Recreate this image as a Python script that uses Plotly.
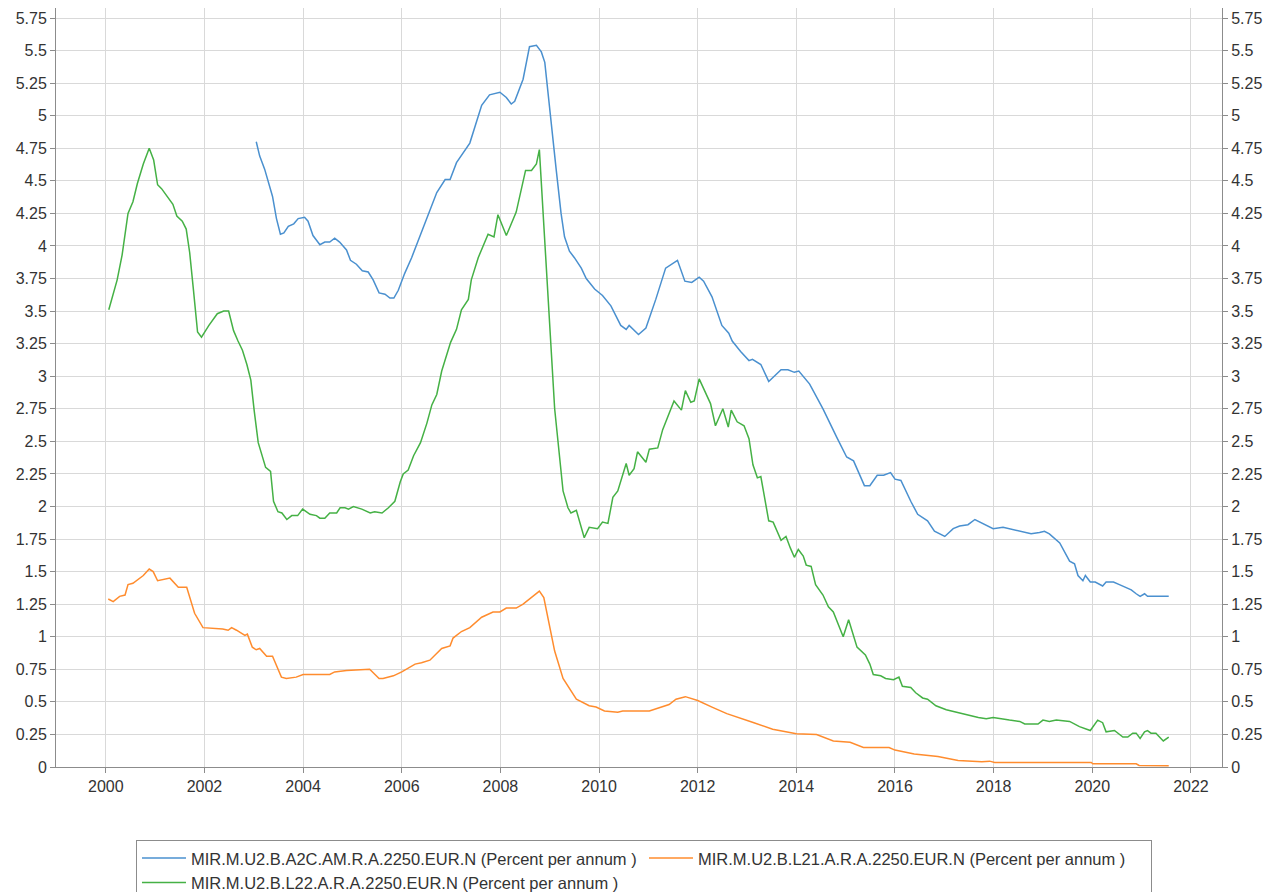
import plotly.graph_objects as go

# ---- data (decimal years, percent per annum) ----
a2c_years = [2003.05, 2003.12, 2003.22, 2003.29, 2003.38, 2003.46, 2003.54, 2003.61, 2003.70, 2003.81, 2003.90,
             2004.03, 2004.10, 2004.20, 2004.34, 2004.44, 2004.54, 2004.64, 2004.74, 2004.88, 2004.96, 2005.08,
             2005.20, 2005.32, 2005.42, 2005.54, 2005.66, 2005.76, 2005.84, 2005.93, 2006.06, 2006.20, 2006.36,
             2006.50, 2006.71, 2006.88, 2006.98, 2007.11, 2007.38, 2007.62, 2007.78, 2007.99, 2008.12, 2008.22,
             2008.29, 2008.46, 2008.59, 2008.73, 2008.83, 2008.90, 2009.00, 2009.13, 2009.23, 2009.30, 2009.40,
             2009.50, 2009.64, 2009.74, 2009.91, 2010.07, 2010.24, 2010.44, 2010.55, 2010.61, 2010.80, 2010.95,
             2011.15, 2011.35, 2011.59, 2011.74, 2011.88, 2012.03, 2012.12, 2012.29, 2012.49, 2012.63, 2012.70,
             2012.87, 2013.04, 2013.11, 2013.28, 2013.44, 2013.69, 2013.83, 2013.96, 2014.05, 2014.27, 2014.54,
             2014.82, 2015.02, 2015.16, 2015.38, 2015.49, 2015.64, 2015.77, 2015.91, 2016.00, 2016.12, 2016.32,
             2016.46, 2016.66, 2016.80, 2017.01, 2017.18, 2017.31, 2017.48, 2017.62, 2017.85, 2017.99, 2018.19,
             2018.53, 2018.76, 2018.93, 2019.03, 2019.13, 2019.34, 2019.54, 2019.64, 2019.71, 2019.81, 2019.86,
             2019.96, 2020.06, 2020.21, 2020.28, 2020.43, 2020.55, 2020.79, 2020.89, 2020.97, 2021.06, 2021.12,
             2021.55]
a2c_values = [4.80, 4.69, 4.59, 4.49, 4.38, 4.21, 4.09, 4.10, 4.15, 4.17, 4.21,
              4.22, 4.19, 4.08, 4.01, 4.03, 4.03, 4.06, 4.03, 3.97, 3.89, 3.86,
              3.81, 3.80, 3.74, 3.64, 3.63, 3.60, 3.60, 3.66, 3.79, 3.91, 4.07,
              4.21, 4.41, 4.51, 4.51, 4.64, 4.79, 5.08, 5.16, 5.18, 5.14, 5.09,
              5.11, 5.28, 5.53, 5.54, 5.49, 5.41, 5.04, 4.59, 4.25, 4.07, 3.96,
              3.91, 3.83, 3.75, 3.67, 3.62, 3.54, 3.39, 3.36, 3.39, 3.32, 3.37,
              3.59, 3.83, 3.89, 3.73, 3.72, 3.76, 3.73, 3.61, 3.39, 3.33, 3.27,
              3.19, 3.12, 3.13, 3.09, 2.96, 3.05, 3.05, 3.03, 3.04, 2.94, 2.75,
              2.53, 2.38, 2.35, 2.16, 2.16, 2.24, 2.24, 2.26, 2.21, 2.20, 2.04,
              1.94, 1.89, 1.81, 1.77, 1.83, 1.85, 1.86, 1.90, 1.86, 1.83, 1.84,
              1.81, 1.79, 1.80, 1.81, 1.79, 1.72, 1.58, 1.56, 1.47, 1.43, 1.47,
              1.42, 1.42, 1.39, 1.42, 1.42, 1.40, 1.36, 1.33, 1.31, 1.33, 1.31,
              1.31]

l21_years = [2000.05, 2000.15, 2000.28, 2000.39, 2000.45, 2000.55, 2000.76, 2000.88, 2000.96, 2001.05, 2001.30,
             2001.47, 2001.64, 2001.80, 2001.97, 2002.37, 2002.48, 2002.55, 2002.65, 2002.82, 2002.87, 2002.97,
             2003.05, 2003.12, 2003.26, 2003.38, 2003.56, 2003.66, 2003.86, 2004.00, 2004.20, 2004.34, 2004.54,
             2004.64, 2004.88, 2005.35, 2005.54, 2005.62, 2005.83, 2006.00, 2006.10, 2006.27, 2006.40, 2006.57,
             2006.81, 2006.98, 2007.04, 2007.21, 2007.38, 2007.62, 2007.85, 2007.99, 2008.12, 2008.32, 2008.46,
             2008.79, 2008.88, 2009.10, 2009.27, 2009.54, 2009.80, 2009.94, 2010.11, 2010.38, 2010.48, 2011.02,
             2011.42, 2011.56, 2011.75, 2012.00, 2012.29, 2012.59, 2013.14, 2013.52, 2014.00, 2014.41, 2014.75,
             2015.09, 2015.36, 2015.88, 2016.00, 2016.39, 2016.87, 2017.28, 2017.76, 2017.92, 2018.02, 2019.98,
             2020.01, 2020.89, 2020.95, 2021.55]
l21_values = [1.29, 1.27, 1.31, 1.32, 1.40, 1.41, 1.47, 1.52, 1.50, 1.43, 1.45,
              1.38, 1.38, 1.18, 1.07, 1.06, 1.05, 1.07, 1.05, 1.01, 1.02, 0.92,
              0.90, 0.91, 0.85, 0.85, 0.69, 0.68, 0.69, 0.71, 0.71, 0.71, 0.71,
              0.73, 0.74, 0.75, 0.68, 0.68, 0.70, 0.73, 0.75, 0.79, 0.80, 0.82,
              0.91, 0.93, 0.99, 1.04, 1.07, 1.15, 1.19, 1.19, 1.22, 1.22, 1.25,
              1.35, 1.30, 0.89, 0.68, 0.52, 0.47, 0.46, 0.43, 0.42, 0.43, 0.43,
              0.48, 0.52, 0.54, 0.51, 0.46, 0.41, 0.34, 0.29, 0.255, 0.25, 0.20,
              0.19, 0.15, 0.15, 0.13, 0.10, 0.08, 0.05, 0.04, 0.045, 0.035, 0.035,
              0.025, 0.025, 0.012, 0.01]

l22_years = [2000.06, 2000.23, 2000.33, 2000.45, 2000.55, 2000.64, 2000.76, 2000.88, 2000.97, 2001.05, 2001.13,
             2001.36, 2001.44, 2001.55, 2001.63, 2001.70, 2001.78, 2001.86, 2001.94, 2002.09, 2002.26, 2002.39,
             2002.49, 2002.59, 2002.68, 2002.77, 2002.86, 2002.94, 2003.01, 2003.09, 2003.24, 2003.34, 2003.40,
             2003.49, 2003.57, 2003.67, 2003.77, 2003.89, 2003.99, 2004.14, 2004.27, 2004.34, 2004.44, 2004.54,
             2004.68, 2004.75, 2004.85, 2004.92, 2005.02, 2005.19, 2005.36, 2005.45, 2005.60, 2005.73, 2005.86,
             2005.97, 2006.03, 2006.13, 2006.24, 2006.38, 2006.51, 2006.61, 2006.71, 2006.81, 2006.99, 2007.11,
             2007.21, 2007.35, 2007.41, 2007.55, 2007.75, 2007.87, 2007.95, 2008.12, 2008.32, 2008.51, 2008.63,
             2008.73, 2008.79, 2009.10, 2009.27, 2009.37, 2009.43, 2009.54, 2009.70, 2009.80, 2009.97, 2010.07,
             2010.18, 2010.28, 2010.38, 2010.55, 2010.61, 2010.71, 2010.78, 2010.95, 2011.02, 2011.19, 2011.29,
             2011.52, 2011.67, 2011.75, 2011.86, 2011.93, 2012.03, 2012.15, 2012.26, 2012.36, 2012.51, 2012.62,
             2012.68, 2012.80, 2012.94, 2013.04, 2013.12, 2013.21, 2013.28, 2013.44, 2013.53, 2013.69, 2013.79,
             2013.88, 2013.96, 2014.04, 2014.14, 2014.20, 2014.30, 2014.39, 2014.54, 2014.65, 2014.75, 2014.95,
             2015.06, 2015.23, 2015.40, 2015.49, 2015.56, 2015.71, 2015.81, 2015.97, 2016.08, 2016.15, 2016.32,
             2016.42, 2016.56, 2016.66, 2016.83, 2017.04, 2017.24, 2017.48, 2017.69, 2017.85, 2017.99, 2018.32,
             2018.53, 2018.63, 2018.90, 2019.00, 2019.13, 2019.27, 2019.54, 2019.74, 2019.96, 2020.11, 2020.21,
             2020.28, 2020.45, 2020.62, 2020.72, 2020.82, 2020.89, 2020.97, 2021.06, 2021.12, 2021.19, 2021.29,
             2021.44, 2021.55]
l22_values = [3.51, 3.74, 3.93, 4.25, 4.34, 4.48, 4.63, 4.75, 4.66, 4.47, 4.44,
              4.32, 4.23, 4.19, 4.13, 3.95, 3.65, 3.34, 3.30, 3.39, 3.48, 3.50,
              3.50, 3.35, 3.27, 3.20, 3.09, 2.97, 2.73, 2.49, 2.30, 2.27, 2.04,
              1.96, 1.95, 1.90, 1.93, 1.93, 1.98, 1.94, 1.93, 1.91, 1.91, 1.95,
              1.95, 1.99, 1.99, 1.98, 2.00, 1.98, 1.95, 1.96, 1.95, 1.99, 2.04,
              2.19, 2.25, 2.28, 2.39, 2.49, 2.64, 2.78, 2.86, 3.04, 3.26, 3.36,
              3.51, 3.59, 3.74, 3.91, 4.09, 4.07, 4.24, 4.08, 4.26, 4.58, 4.58,
              4.63, 4.74, 2.75, 2.12, 1.99, 1.95, 1.97, 1.76, 1.84, 1.83, 1.88,
              1.87, 2.07, 2.12, 2.33, 2.24, 2.29, 2.42, 2.34, 2.44, 2.45, 2.59,
              2.81, 2.74, 2.89, 2.80, 2.81, 2.98, 2.88, 2.79, 2.62, 2.75, 2.61,
              2.74, 2.65, 2.62, 2.52, 2.32, 2.22, 2.23, 1.89, 1.88, 1.74, 1.77,
              1.68, 1.61, 1.67, 1.62, 1.55, 1.54, 1.40, 1.32, 1.23, 1.19, 1.00,
              1.13, 0.92, 0.86, 0.79, 0.71, 0.70, 0.68, 0.67, 0.69, 0.62, 0.61,
              0.57, 0.53, 0.52, 0.47, 0.44, 0.42, 0.40, 0.38, 0.37, 0.38, 0.36,
              0.35, 0.33, 0.33, 0.36, 0.35, 0.36, 0.35, 0.31, 0.28, 0.36, 0.34,
              0.27, 0.28, 0.23, 0.23, 0.26, 0.26, 0.22, 0.27, 0.28, 0.26, 0.26,
              0.20, 0.23]

series_names = [
    "MIR.M.U2.B.A2C.AM.R.A.2250.EUR.N (Percent per annum )",
    "MIR.M.U2.B.L21.A.R.A.2250.EUR.N (Percent per annum )",
    "MIR.M.U2.B.L22.A.R.A.2250.EUR.N (Percent per annum )",
]
series_colors = ["#4a90cf", "#ff8c2e", "#45b145"]

x_ticks = [2000, 2002, 2004, 2006, 2008, 2010, 2012, 2014, 2016, 2018, 2020, 2022]
y_ticks = [i * 0.25 for i in range(24)]
y_tick_text = ["%g" % v for v in y_ticks]

FONT = "Liberation Sans, Arial, sans-serif"

fig = go.Figure()
for xs, ys, name, color in [
    (a2c_years, a2c_values, series_names[0], series_colors[0]),
    (l21_years, l21_values, series_names[1], series_colors[1]),
    (l22_years, l22_values, series_names[2], series_colors[2]),
]:
    fig.add_trace(go.Scatter(x=xs, y=ys, mode="lines", name=name,
                             line=dict(color=color, width=1.5)))

# invisible trace for the right-hand axis
fig.add_trace(go.Scatter(x=[a2c_years[0]], y=[a2c_values[0]], yaxis="y2", mode="lines",
                         showlegend=False, hoverinfo="skip", line=dict(width=0), opacity=0))

axis_common = dict(
    showline=True, linecolor="#8c8c8c", linewidth=1,
    ticks="outside", ticklen=5, tickcolor="#8c8c8c",
    tickfont=dict(family=FONT, size=16, color="#333333"),
    zeroline=False, automargin=False,
)

# the page adds an 8px body margin, so the figure is 8px smaller than the window
fig.update_layout(
    width=1266, height=884,
    margin=dict(l=48, r=52, t=0, b=125, autoexpand=False),
    paper_bgcolor="white", plot_bgcolor="white",
    xaxis=dict(range=[1998.99, 2022.63], tickmode="array", tickvals=x_ticks,
               ticktext=[str(v) for v in x_ticks],
               showgrid=True, gridcolor="#d9d9d9", gridwidth=1, **axis_common),
    yaxis=dict(range=[0, 5.827], tickmode="array", tickvals=y_ticks, ticktext=y_tick_text,
               showgrid=True, gridcolor="#d9d9d9", gridwidth=1, **axis_common),
    yaxis2=dict(range=[0, 5.827], tickmode="array", tickvals=y_ticks, ticktext=y_tick_text,
                overlaying="y", side="right", showgrid=False, **axis_common),
    showlegend=True,
    legend=dict(
        orientation="h", x=0.0686, y=-0.096, xanchor="left", yanchor="top",
        bordercolor="#8c8c8c", borderwidth=1, bgcolor="white",
        font=dict(family=FONT, size=16.5, color="#333333"),
        itemwidth=44,
        entrywidth=448, entrywidthmode="pixels",
        traceorder="normal",
    ),
)

fig.write_html("out.html")
